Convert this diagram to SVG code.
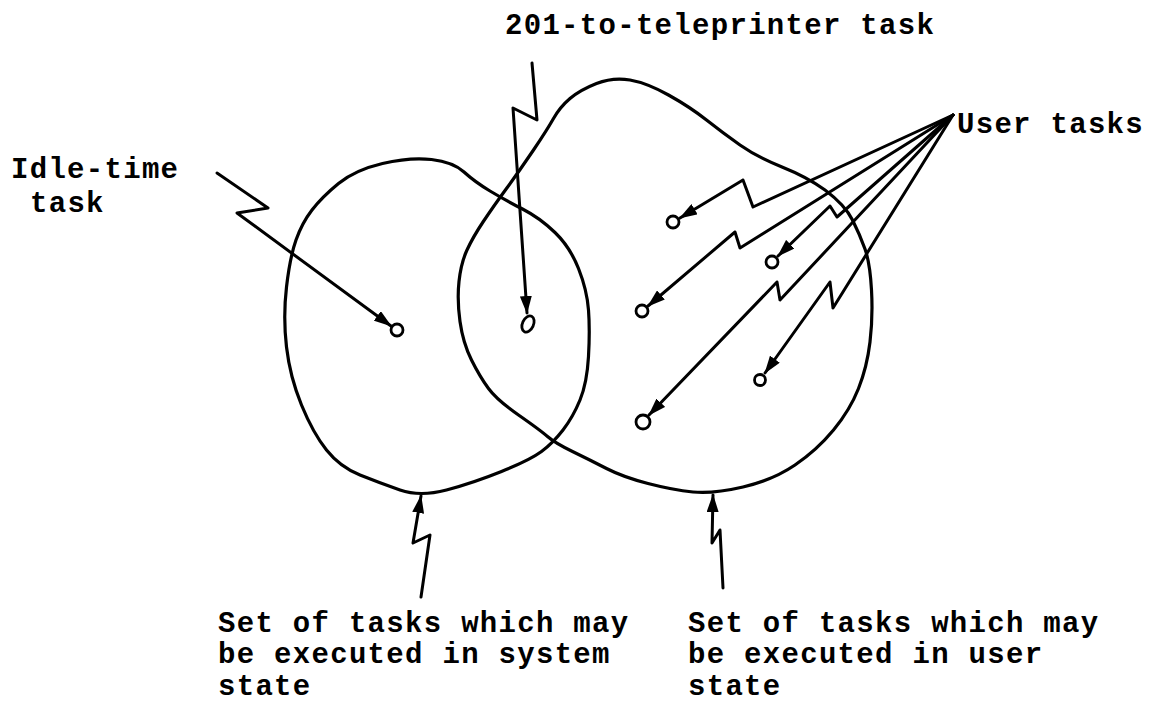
<svg xmlns="http://www.w3.org/2000/svg" width="1152" height="702" viewBox="0 0 1152 702">
<style>
.set{fill:none;stroke:#000;stroke-width:3.2;stroke-linejoin:round}
.task{fill:#fff;stroke:#000;stroke-width:2.8}
.conn{fill:none;stroke:#000;stroke-width:3;stroke-linejoin:round;stroke-linecap:round}
.lbl{font-family:"Liberation Mono","Courier New",monospace;font-weight:bold;font-size:29px;letter-spacing:1.3px;fill:#000}
</style>
<defs>
<marker id="ah" markerWidth="18" markerHeight="12" refX="17" refY="6" orient="auto" markerUnits="userSpaceOnUse">
<path d="M0,0 L18,6 L0,12 z" fill="#000"/>
</marker>
</defs>
<rect width="1152" height="702" fill="#fff"/>

<g id="system-set">
<path class="set" d="M382.5,163.5 Q410,157 431.5,159.5 Q453,162 464,172 Q475,182 490,191 Q505,200 522.5,209 Q540,218 555,232.5 Q570,247 578.5,268.5 Q587,290 588.5,310 Q590,330 588.5,356.5 Q587,383 580,400 Q573,417 563,430 Q553,443 541.5,451.5 Q530,460 501.5,471.5 Q473,483 446.5,490 Q420,497 400,490 Q380,483 360,475 Q340,467 326.5,450 Q313,433 301.5,405 Q290,377 286.5,347 Q283,317 286.5,287 Q290,257 296,240 Q302,223 312,210 Q322,197 338.5,183.5 Q355,170 382.5,163.5 Z"/>
</g>

<g id="user-set">
<path class="set" d="M460,321.5 Q457,300 459,281.5 Q461,263 467,250 Q473,237 483,222 Q493,207 506.5,188.5 Q520,170 533.5,150 Q547,130 553.5,118.5 Q560,107 570,98.5 Q580,90 596.5,83.5 Q613,77 630,80 Q647,83 668.5,95 Q690,107 706.5,120 Q723,133 740,145 Q757,157 782,167 Q807,177 825,190 Q845,205 852.5,220 Q860,235 865,249 Q870,263 871.5,290 Q873,317 870,342 Q867,367 858.5,388.5 Q850,410 833.5,430 Q817,450 795,465 Q773,480 743,487 Q713,494 693,492 Q673,490 648,483.5 Q623,477 606.5,468.5 Q590,460 572.5,451.5 Q555,443 547.5,436.5 Q540,430 518.5,415 Q497,400 488.5,388.5 Q480,377 471.5,360 Q463,343 460,321.5 Z"/>
</g>

<g id="connectors">
<polyline id="c-idle" class="conn" points="217,173 268,208 237,213 391,326" marker-end="url(#ah)"/>
<polyline id="c-201" class="conn" points="532,63 537,120 513,108 527,313" marker-end="url(#ah)"/>
<polyline id="c-u1" class="conn" points="953,115 753,207 743,180 680,218" marker-end="url(#ah)"/>
<polyline id="c-u2" class="conn" points="953,115 740,248 735,232 648,306" marker-end="url(#ah)"/>
<polyline id="c-u3" class="conn" points="953,115 837,217 830,206 778,256" marker-end="url(#ah)"/>
<polyline id="c-u4" class="conn" points="953,115 780,300 777,282 649,415" marker-end="url(#ah)"/>
<polyline id="c-u5" class="conn" points="953,115 833,308 830,282 765,373" marker-end="url(#ah)"/>
<polyline id="c-sys" class="conn" points="421,597 430,535 413,543 421,496" marker-end="url(#ah)"/>
<polyline id="c-usr" class="conn" points="723,588 720,530 712,543 713,495" marker-end="url(#ah)"/>
</g>

<g id="task-idle"><circle class="task" cx="397" cy="330" r="6"/></g>
<g id="task-201"><ellipse class="task" cx="528" cy="324" rx="5.5" ry="8.5" transform="rotate(25 528 324)"/></g>
<g id="task-u1"><circle class="task" cx="673" cy="222" r="6"/></g>
<g id="task-u2"><circle class="task" cx="772" cy="262" r="6"/></g>
<g id="task-u3"><circle class="task" cx="642" cy="311" r="6"/></g>
<g id="task-u4"><circle class="task" cx="760" cy="380" r="5.5"/></g>
<g id="task-u5"><circle class="task" cx="643" cy="422" r="7"/></g>

<g id="label-201"><text class="lbl" x="505" y="34">201-to-teleprinter task</text></g>
<g id="label-idle"><text class="lbl" x="11" y="178">Idle-time</text><text class="lbl" x="30" y="212">task</text></g>
<g id="label-user"><text class="lbl" x="957" y="133">User tasks</text></g>
<g id="label-system-set">
<text class="lbl" x="218" y="632">Set of tasks which may</text>
<text class="lbl" x="218" y="663">be executed in system</text>
<text class="lbl" x="218" y="695">state</text>
</g>
<g id="label-user-set">
<text class="lbl" x="688" y="632">Set of tasks which may</text>
<text class="lbl" x="688" y="663">be executed in user</text>
<text class="lbl" x="688" y="695">state</text>
</g>
</svg>
